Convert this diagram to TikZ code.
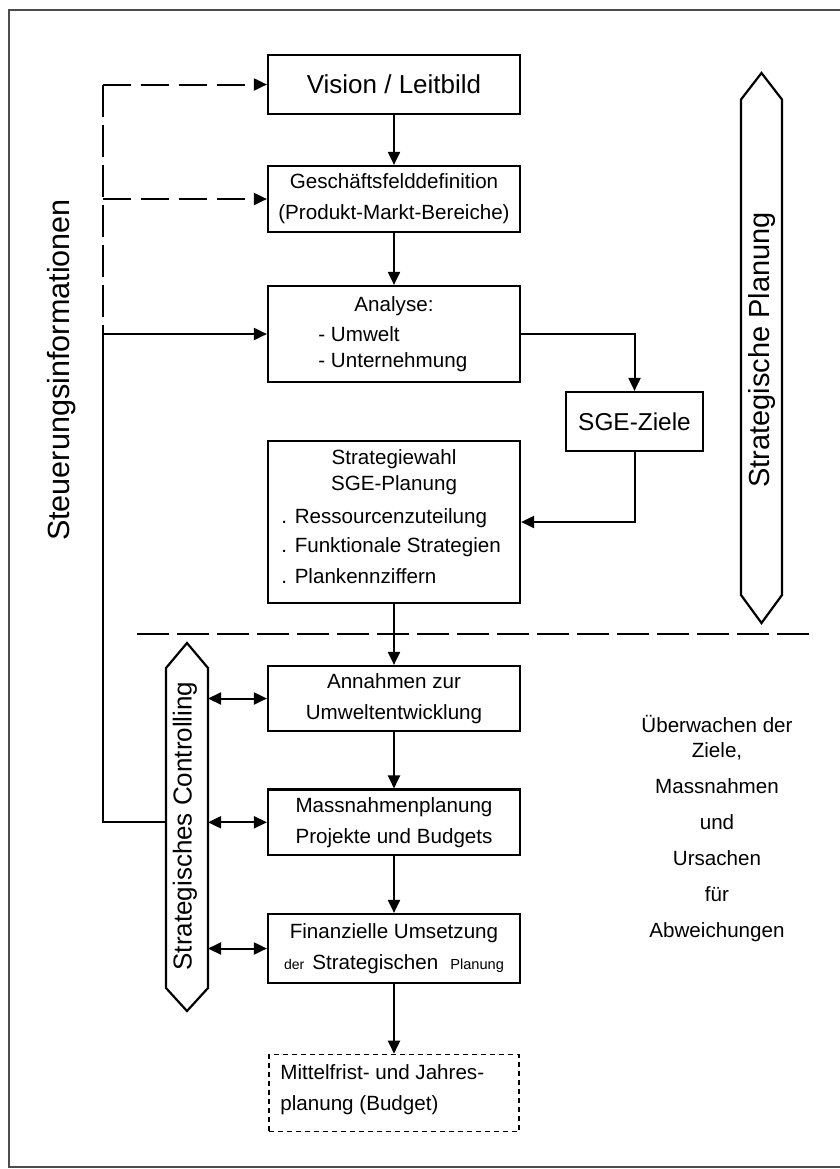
\documentclass[tikz,border=0pt]{standalone}
\usepackage{fontspec}
\setmainfont{Liberation Sans}
\usetikzlibrary{arrows.meta}

\tikzset{
  box/.style={draw, line width=1.1pt, minimum width=126pt, inner sep=0pt, align=center, font=\fontsize{10.3}{15.5}\selectfont},
  txt/.style={inner sep=0pt, font=\fontsize{10.3}{15.5}\selectfont},
  pfeil/.style={line width=1pt, -{Triangle[length=6.5pt,width=6pt]}},
  strich/.style={pfeil, dash pattern=on 14pt off 5pt},
  doppel/.style={line width=1pt, {Triangle[length=6.5pt,width=6pt]}-{Triangle[length=6.5pt,width=6pt]}},
}

\begin{document}
\begin{tikzpicture}[x=0.5pt, y=-0.5pt]
                \useasboundingbox (0,0) rectangle (840,1169);
                \draw[gray!60!black, line width=1.2pt] (840,10) -- (9,10) -- (9,1167) -- (840,1167);

                \node(vision)   at(394, 84.5)  [box, minimum height=29.5pt, font=\fontsize{13}{15}\selectfont] {Vision / Leitbild};
                \node(gfd)      at(394, 199)   [box, minimum height=33pt] {Geschäftsfelddefinition\\(Produkt-Markt-Bereiche)};
                \node(analyse)  at(394, 334)   [box, minimum height=48pt] {};
                \node(analyse_titel) at(394, 311.5) [txt, anchor=base] {Analyse:};
                \node(analyse_umwelt) at(318, 341.5) [txt, anchor=base west] {- Umwelt};
                \node(analyse_unternehmung) at(318, 367.5) [txt, anchor=base west] {- Unternehmung};
                \node(sge)      at(634.5, 421.5) [box, minimum width=68.5pt, minimum height=29.5pt, font=\fontsize{12.2}{15}\selectfont] {SGE-Ziele};
                \node(wahl)     at(394, 522)   [box, minimum height=80.75pt] {};
                \node(wahl_titel) at(394, 464.5) [txt, anchor=base] {Strategiewahl};
                \node(wahl_sge)   at(394, 490.5) [txt, anchor=base] {SGE-Planung};
                \node(wahl_ress)  at(281, 523.5) [txt, anchor=base west] {. Ressourcenzuteilung};
                \node(wahl_funk)  at(281, 552.5) [txt, anchor=base west] {. Funktionale Strategien};
                \node(wahl_plan)  at(281, 583.5) [txt, anchor=base west] {. Plankennziffern};

                \node(annahmen) at(394, 698.5) [box, minimum height=32.5pt] {Annahmen zur\\Umweltentwicklung};
                \node(massn)    at(394, 822.3) [box, minimum height=32.75pt] {Massnahmenplanung\\Projekte und Budgets};
                \node(finanz)   at(394, 948.5) [box, minimum height=34.5pt] {Finanzielle Umsetzung\\{\fontsize{7}{15.5}\selectfont der}\hspace{4pt}Strategischen\hspace{6pt}{\fontsize{7.3}{15.5}\selectfont Planung}};
                \node(mittel)   at(394, 1093)  [box, line width=0.8pt, dash pattern=on 2.5pt off 2pt, minimum width=125pt, minimum height=38.5pt] {};
                \node(mittel_a) at(280, 1079.5) [txt, anchor=base west] {Mittelfrist- und Jahres-};
                \node(mittel_b) at(280, 1110.5) [txt, anchor=base west] {planung (Budget)};

                \draw[pfeil] (vision) -- (gfd);
                \draw[pfeil] (gfd) -- (analyse);
                \draw[pfeil] (analyse.east) -| (sge.north);
                \draw[pfeil] (sge.south) |- (wahl.east);
                \draw[pfeil] (wahl) -- (annahmen);
                \draw[pfeil] (annahmen) -- (massn);
                \draw[pfeil] (massn) -- (finanz);
                \draw[pfeil] (finanz) -- (mittel);

                \node(steuer) at(62, 370) [rotate=90, font=\fontsize{15.3}{18}\selectfont] {Steuerungsinformationen};
                \coordinate(steuer_oben)  at(102.5, 84.5);
                \coordinate(steuer_mitte) at(102.5, 334);
                \coordinate(steuer_unten) at(102.5, 822);
                \coordinate(ctrl_links)   at(166, 822);
                \coordinate(ctrl_rechts)  at(208, 827);
                \draw[line width=1pt, dash pattern=on 16pt off 4pt] (steuer_oben) -- (steuer_mitte);
                \draw[strich] (steuer_oben) -- (vision.west);
                \draw[strich] (vision.west -| steuer_oben) ++(0,114.5) -- (gfd.west);
                \draw[pfeil] (steuer_mitte) -- (analyse.west);
                \draw[line width=1pt] (steuer_mitte) -- (steuer_unten) -- (ctrl_links);

                \draw[line width=1.1pt] (761.5,73) -- (782,99.5) -- (782,595) -- (761.5,623) -- (741,595) -- (741,99.5) -- cycle;
                \node(planung) at(761.5, 350) [rotate=90, font=\fontsize{14.5}{18}\selectfont] {Strategische Planung};

                \coordinate(trenn_links)  at(137, 634);
                \coordinate(trenn_rechts) at(809, 634);
                \draw[line width=1pt, dash pattern=on 16pt off 4pt] (trenn_links) -- (trenn_rechts);

                \draw[line width=1.1pt] (187,643) -- (208,668) -- (208,988) -- (187,1011) -- (166,988) -- (166,668) -- cycle;
                \node(controlling) at(185, 826) [rotate=90, font=\fontsize{13}{16}\selectfont] {Strategisches Controlling};
                \draw[doppel] (annahmen.west -| ctrl_rechts) -- (annahmen.west);
                \draw[doppel] (massn.west -| ctrl_rechts) -- (massn.west);
                \draw[doppel] (finanz.west -| ctrl_rechts) -- (finanz.west);

                \node(ueberwachen) at(717, 829) [align=center, font=\fontsize{10.3}{12.5}\selectfont]
                    {Überwachen der\\Ziele,\\[5.5pt]Massnahmen\\[5.5pt]und\\[5.5pt]Ursachen\\[5.5pt]für\\[5.5pt]Abweichungen};
            \end{tikzpicture}
\end{document}
